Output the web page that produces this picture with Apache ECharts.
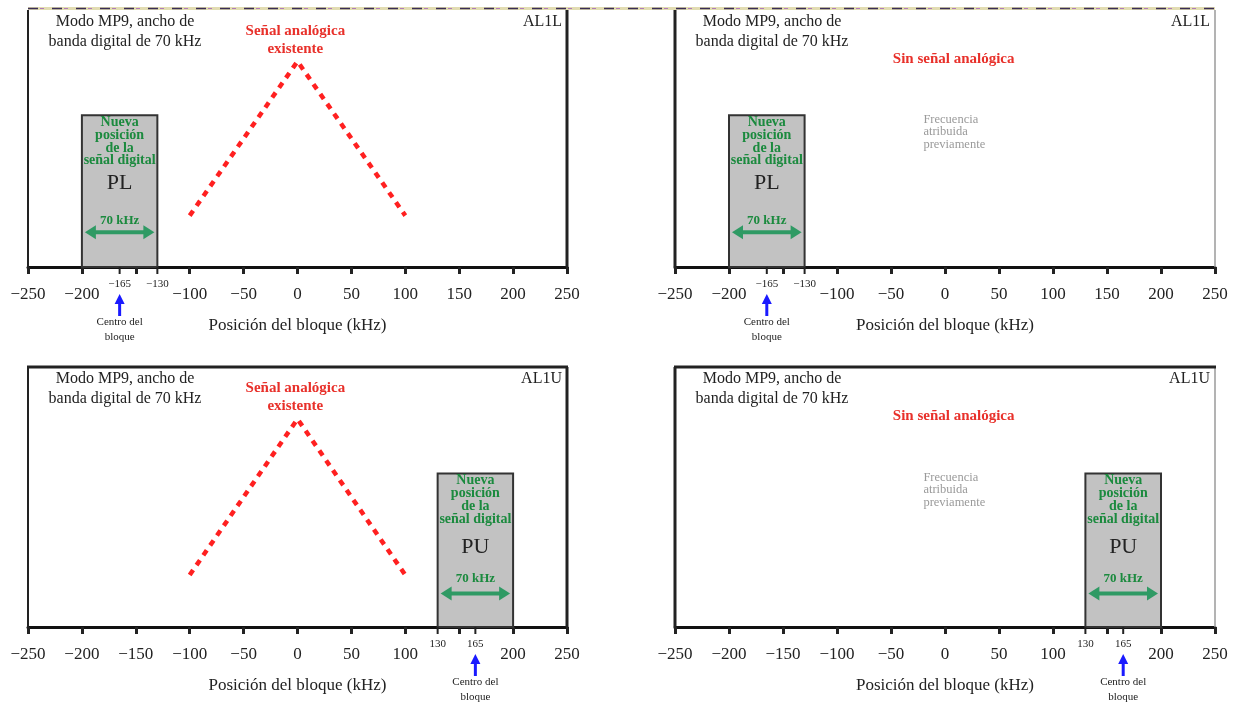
<!DOCTYPE html>
<html><head><meta charset="utf-8">
<script src="https://cdn.jsdelivr.net/npm/echarts@6/dist/echarts.min.js"></script>
<style>html,body{margin:0;padding:0;background:#fff}#c{width:1241px;height:708px}</style>
</head><body><div id="c"></div>
<script>
// ---- data ----
const analogX = [-100, 0, 100];
const analogY = [20, 80, 20];
const panelTags = ['AL1L', 'AL1L', 'AL1U', 'AL1U'];
const panelHasAnalog = [true, false, true, false];
const panelBoxStart = [-200, -200, 130, 130];
const panelBoxEnd = [-130, -130, 200, 200];
const boxHeight = 59;
const panelBoxName = ['PL', 'PL', 'PU', 'PU'];
const panelCenter = [-165, -165, 165, 165];
const panelHiddenTick = [-150, -150, 150, 150];
const panelEdgeLabel = [-130, -130, 130, 130];
const xMin = -250, xMax = 250, xStep = 50;
const modeText = ['Modo MP9, ancho de', 'banda digital de 70 kHz'];
const analogText = ['Señal analógica', 'existente'];
const noAnalogText = 'Sin señal analógica';
const prevText = ['Frecuencia', 'atribuida', 'previamente'];
const newPosText = ['Nueva', 'posición', 'de la', 'señal digital'];
const bwText = '70 kHz';
const centerText = ['Centro del', 'bloque'];
const axisName = 'Posición del bloque (kHz)';

// ---- layout ----
const grids = [
  {left: 28, top: 10, width: 539, height: 257},
  {left: 675, top: 10, width: 540, height: 257},
  {left: 28, top: 367, width: 539, height: 260},
  {left: 675, top: 367, width: 540, height: 260}
];
const SERIF = '"Liberation Serif", "Times New Roman", serif';
const RED = '#e8302a', GREEN = '#1b8a3e', ARROWG = '#2f9a64', BLUE = '#1a1aff';
const fmt = v => (v < 0 ? '\u2212' + Math.abs(v) : String(v));

const chart = echarts.init(document.getElementById('c'));
const xAxes = [], yAxes = [], series = [];
grids.forEach((g, i) => {
  xAxes.push({
    gridIndex: i, type: 'value', min: xMin, max: xMax, interval: xStep,
    axisLine: {show: true, lineStyle: {color: '#111', width: 3}},
    axisTick: {show: true, length: 7, lineStyle: {color: '#222', width: 3}},
    splitLine: {show: false},
    axisLabel: {
      margin: 19, color: '#222', fontFamily: SERIF, fontSize: 17,
      formatter: v => (v === panelHiddenTick[i] ? '' : fmt(v))
    },
    name: axisName, nameLocation: 'middle', nameGap: 50,
    nameTextStyle: {fontFamily: SERIF, fontSize: 17, color: '#222'}
  });
  yAxes.push({gridIndex: i, type: 'value', min: 0, max: 100, show: false});
  series.push({
    type: 'custom', xAxisIndex: i, yAxisIndex: i, silent: true, z: 1,
    data: [[panelBoxStart[i], panelBoxEnd[i], boxHeight]],
    encode: {x: [0, 1], y: 2},
    renderItem: (params, api) => {
      const p0 = api.coord([api.value(0), api.value(2)]);
      const p1 = api.coord([api.value(1), 0]);
      return {type: 'rect', shape: {x: p0[0], y: p0[1], width: p1[0] - p0[0], height: p1[1] - p0[1]},
        style: {fill: '#c2c2c2', stroke: '#333', lineWidth: 2}};
    }
  });
  if (panelHasAnalog[i]) {
    series.push({
      type: 'line', xAxisIndex: i, yAxisIndex: i, symbol: 'none', silent: true,
      data: analogX.map((x, k) => [x, analogY[k]]),
      lineStyle: {color: '#ff2020', width: 4.5, type: [6, 6], cap: 'butt'}
    });
  }
});

chart.setOption({
  animation: false,
  grid: grids.map(g => Object.assign({containLabel: false}, g)),
  xAxis: xAxes, yAxis: yAxes, series: series
});

// ---- annotations positioned through the axes ----
const gr = [];
const txt = (x, y, text, o) => gr.push(Object.assign({type: 'text', z: 100, x: x, y: y,
  style: Object.assign({text: text, fontFamily: SERIF, fontSize: 15, fill: '#222', align: 'center', verticalAlign: 'middle'}, o || {})}));
const line = (x1, y1, x2, y2, stroke, w) => gr.push({type: 'line', z: 100, shape: {x1, y1, x2, y2}, style: {stroke: stroke, lineWidth: w}});
const poly = (pts, fill) => gr.push({type: 'polygon', z: 100, shape: {points: pts}, style: {fill: fill}});

// top decorative strip
gr.push({type: 'rect', z: 100, shape: {x: 28, y: 7, width: 1187, height: 3}, style: {fill: '#e2dcb2'}});
gr.push({type: 'line', z: 101, shape: {x1: 28, y1: 8.5, x2: 1215, y2: 8.5}, style: {stroke: '#3a2c55', lineWidth: 1.5, lineDash: [10, 14]}});
gr.push({type: 'line', z: 101, shape: {x1: 40, y1: 8.5, x2: 1215, y2: 8.5}, style: {stroke: '#b07ab8', lineWidth: 1, lineDash: [4, 20]}});

grids.forEach((g, i) => {
  const c = (x, y) => chart.convertToPixel({gridIndex: i}, [x, y]);
  const L = g.left, R = g.left + g.width, T = g.top, B = g.top + g.height;
  const isLeft = (i % 2 === 0), isTop = i < 2;
  // frame
  line(L, T, L, B, '#222', isLeft ? 2 : 3);
  line(R, T, R, B, isLeft ? '#222' : '#9a9a9a', isLeft ? 3 : 1.5);
  if (!isTop) line(L - 1, T, R + 1, T, '#222', 3);
  // corner labels
  txt(L + 97, T + 12, modeText[0], {fontSize: 16});
  txt(L + 97, T + 32, modeText[1], {fontSize: 16});
  txt(R - 5, T + 12, panelTags[i], {align: 'right', fontSize: 16});
  if (panelHasAnalog[i]) {
    const p = c(-2, 0);
    txt(p[0], T + 21, analogText[0], {fill: RED, fontWeight: 'bold'});
    txt(p[0], T + 39, analogText[1], {fill: RED, fontWeight: 'bold'});
  } else {
    const p = c(8, 0);
    txt(p[0], T + 49, noAnalogText, {fill: RED, fontWeight: 'bold'});
    const q = c(-20, 57.5);
    prevText.forEach((t, k) => txt(q[0], q[1] + k * 12.5, t, {align: 'left', fontSize: 12.5, fill: '#9a9a9a'}));
  }
  // box contents
  const bx0 = c(panelBoxStart[i], boxHeight), bx1 = c(panelBoxEnd[i], 0);
  const cx = (bx0[0] + bx1[0]) / 2, top = bx0[1];
  newPosText.forEach((t, k) => txt(cx, top + 7 + k * 12.8, t, {fill: GREEN, fontWeight: 'bold', fontSize: 14}));
  txt(cx, top + (isTop ? 68 : 74), panelBoxName[i], {fontSize: 22, fill: '#222'});
  txt(cx, top + 105, bwText, {fill: GREEN, fontWeight: 'bold', fontSize: 13});
  const ay = top + (isTop ? 117 : 120);
  const ax0 = bx0[0] + 3, ax1 = bx1[0] - 3;
  line(ax0 + 8, ay, ax1 - 8, ay, ARROWG, 4);
  poly([[ax0, ay], [ax0 + 11, ay - 7], [ax0 + 11, ay + 7]], ARROWG);
  poly([[ax1, ay], [ax1 - 11, ay - 7], [ax1 - 11, ay + 7]], ARROWG);
  // extra ticks and small labels
  const pc = c(panelCenter[i], 0);
  line(pc[0], B, pc[0], B + 7, '#222', 2);
  txt(pc[0], B + 17, fmt(panelCenter[i]), {fontSize: 11});
  const pe = c(panelEdgeLabel[i], 0);
  line(pe[0], B, pe[0], B + 7, '#222', 2);
  txt(pe[0], B + 17, fmt(panelEdgeLabel[i]), {fontSize: 11});
  // centre arrow
  line(pc[0], B + 49, pc[0], B + 36, BLUE, 3);
  poly([[pc[0], B + 27], [pc[0] - 5, B + 37], [pc[0] + 5, B + 37]], BLUE);
  txt(pc[0], B + 55, centerText[0], {fontSize: 11});
  txt(pc[0], B + 70, centerText[1], {fontSize: 11});
});
chart.setOption({graphic: {elements: gr}});
</script></body></html>
